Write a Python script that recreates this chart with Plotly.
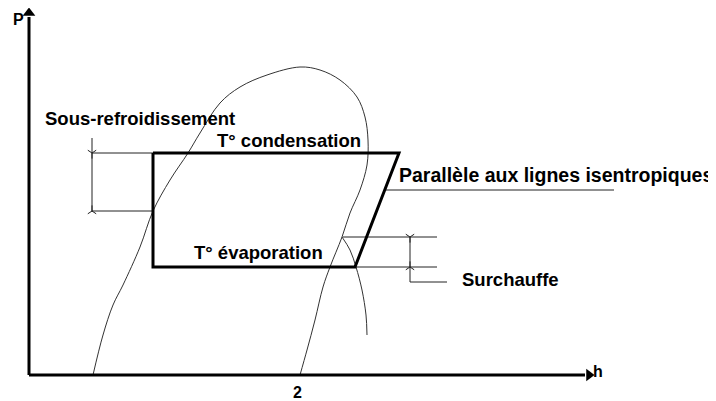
import plotly.graph_objects as go

# saturation dome (h, P), origin at the axes corner
dome_h = [64, 74, 84, 94, 111, 124, 141, 159, 171, 191, 211, 238, 271, 291, 311, 328,
          336, 339, 338, 331, 321, 313, 301, 294, 286, 278, 271]
dome_P = [0, 40, 70, 90, 128, 164, 195, 222, 242, 272, 288, 300, 308, 305, 295, 278,
          258, 235, 210, 185, 162, 138, 108, 88, 55, 25, 0]

# isotherm in the superheated zone
iso_h = [313, 321, 327, 333, 337, 338]
iso_P = [138, 125, 108, 85, 60, 40]

# refrigeration cycle
cycle_h = [124, 370, 326, 124, 124]
cycle_P = [222, 222, 108, 108, 222]

# subcooling dimension
sr_h = [63, 124, None, 63, 63, None, 63, 124]
sr_P = [222, 222, None, 237, 163, None, 164, 164]

# superheat dimension
sh_h = [314, 408, None, 326, 408, None, 381, 381, 418]
sh_P = [138, 138, None, 108, 108, None, 138, 93, 93]

# isentropic leader
isen_h = [356, 585]
isen_P = [185, 185]

# dimension arrow ticks
tick_h = [63, 63, 381, 381]
tick_P = [222, 164, 138, 108]
tick_sym = ["y-down", "y-up", "y-down", "y-up"]

# axes
axis_h = [0, 0, None, 0, 556]
axis_P = [358, 0, None, 0, 0]
head_h = [0, 560]
head_P = [362, 0]
head_sym = ["triangle-up", "triangle-right"]

labels = [
    ("Sous-refroidissement", 14, 257, 18.5),
    ("T° condensation", 186, 235, 18.5),
    ("T° évaporation", 163, 123, 18.5),
    ("Parallèle aux lignes isentropiques", 368, 200, 19.5),
    ("Surchauffe", 431, 96, 18.5),
]
axis_labels = [("P", -11, 366, "top"), ("h", 569, 4, "middle"), ("2", 268, -17, "middle")]

fig = go.Figure()
thin = dict(color="#222222", width=1)
fig.add_trace(go.Scatter(x=dome_h, y=dome_P, mode="lines", line=dict(color="#333333", width=1, shape="spline")))
fig.add_trace(go.Scatter(x=iso_h, y=iso_P, mode="lines", line=dict(color="#333333", width=1, shape="spline")))
fig.add_trace(go.Scatter(x=sr_h, y=sr_P, mode="lines", line=thin))
fig.add_trace(go.Scatter(x=sh_h, y=sh_P, mode="lines", line=thin))
fig.add_trace(go.Scatter(x=isen_h, y=isen_P, mode="lines", line=thin))
fig.add_trace(go.Scatter(x=cycle_h, y=cycle_P, mode="lines", line=dict(color="black", width=3)))
fig.add_trace(go.Scatter(x=tick_h, y=tick_P, mode="markers",
                         marker=dict(symbol=tick_sym, size=7, color="#222222",
                                     line=dict(color="#222222", width=1))))
fig.add_trace(go.Scatter(x=axis_h, y=axis_P, mode="lines", line=dict(color="black", width=3)))
fig.add_trace(go.Scatter(x=head_h, y=head_P, mode="markers",
                         marker=dict(symbol=head_sym, size=11, color="black")))

for txt, hx, py, fs in labels:
    fig.add_annotation(x=hx, y=py, text=txt, showarrow=False, xanchor="left", yanchor="middle",
                       font=dict(family="Liberation Sans", size=fs, color="black", weight="bold"))
for txt, hx, py, ya in axis_labels:
    fig.add_annotation(x=hx, y=py, text=txt, showarrow=False, xanchor="center", yanchor=ya,
                       font=dict(family="Liberation Sans", size=16, color="black", weight="bold"))

# the page body adds an 8px margin, so the ranges are shifted to compensate
fig.update_layout(width=716, height=401, margin=dict(l=0, r=0, t=0, b=0),
                  plot_bgcolor="white", paper_bgcolor="white", showlegend=False,
                  xaxis=dict(visible=False, range=[-21, 695]),
                  yaxis=dict(visible=False, range=[-34, 367]))

fig.write_html("out.html")
